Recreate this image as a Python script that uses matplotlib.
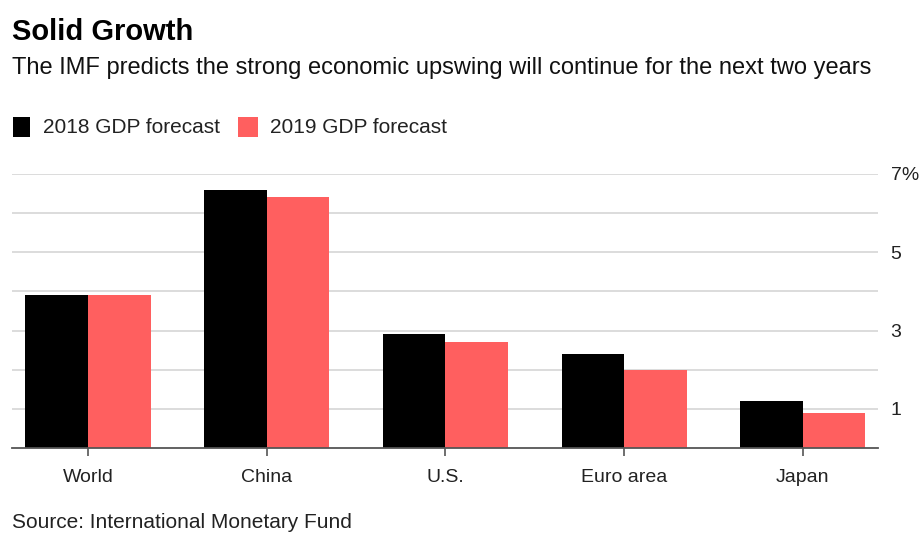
import matplotlib
matplotlib.use("Agg")
import matplotlib.pyplot as plt
import numpy as np
from matplotlib.patches import Rectangle

categories = ["World", "China", "U.S.", "Euro area", "Japan"]
gdp_2018 = [3.9, 6.6, 2.9, 2.4, 1.2]
gdp_2019 = [3.9, 6.4, 2.7, 2.0, 0.9]
series_names = ["2018 GDP forecast", "2019 GDP forecast"]
ytick_vals = [1, 3, 5, 7]
ytick_labels = ["1", "3", "5", "7%"]

BLACK = "#000000"
RED = "#ff5f5f"

plt.rcParams['font.family'] = ['Liberation Sans', 'DejaVu Sans']

fig = plt.figure(figsize=(9.21, 5.33), dpi=100)
ax = fig.add_axes([12/921, 1-448/533, (878-12)/921, (448-174)/533])

x = np.arange(len(categories))
w = 0.35
ax.bar(x - w/2, gdp_2018, width=w, color=BLACK, zorder=3)
ax.bar(x + w/2, gdp_2019, width=w, color=RED, zorder=3)

ax.set_xlim(-0.425, len(categories) - 1 + 0.42)
ax.set_ylim(0, 7)
for v in range(1, 8):
    ax.axhline(v, color="#d6d6d6", lw=1.2, zorder=1)

for s in ["top", "left", "right"]:
    ax.spines[s].set_visible(False)
ax.spines["bottom"].set_color("#555555")
ax.spines["bottom"].set_linewidth(1.3)
ax.spines["bottom"].set_zorder(4)

ax.set_xticks(x)
ax.set_xticklabels(categories, fontsize=14, color="#222222")
ax.tick_params(axis="x", length=6, width=1.2, color="#555555", pad=9)

ax.yaxis.tick_right()
ax.set_yticks(ytick_vals)
ax.set_yticklabels(ytick_labels, fontsize=14, color="#222222")
ax.tick_params(axis="y", length=0, pad=9)

fig.text(12/921, 1-32/533, "Solid Growth", fontsize=21, fontweight="bold", va="center", ha="left", color="#000000")
fig.text(12/921, 1-68/533, "The IMF predicts the strong economic upswing will continue for the next two years",
         fontsize=17, va="center", ha="left", color="#111111")

# legend
for (x0, x1), col, name, tx in [((13, 30), BLACK, series_names[0], 43), ((238, 258), RED, series_names[1], 270)]:
    fig.patches.append(Rectangle((x0/921, 1-137/533), (x1-x0)/921, 20/533, transform=fig.transFigure,
                                 facecolor=col, edgecolor="none"))
    fig.text(tx/921, 1-127/533, name, fontsize=15, va="center", ha="left", color="#222222")

fig.text(12/921, 1-522/533, "Source: International Monetary Fund", fontsize=15, va="center", ha="left", color="#222222")

fig.savefig("out.png", dpi=100, facecolor="white")
